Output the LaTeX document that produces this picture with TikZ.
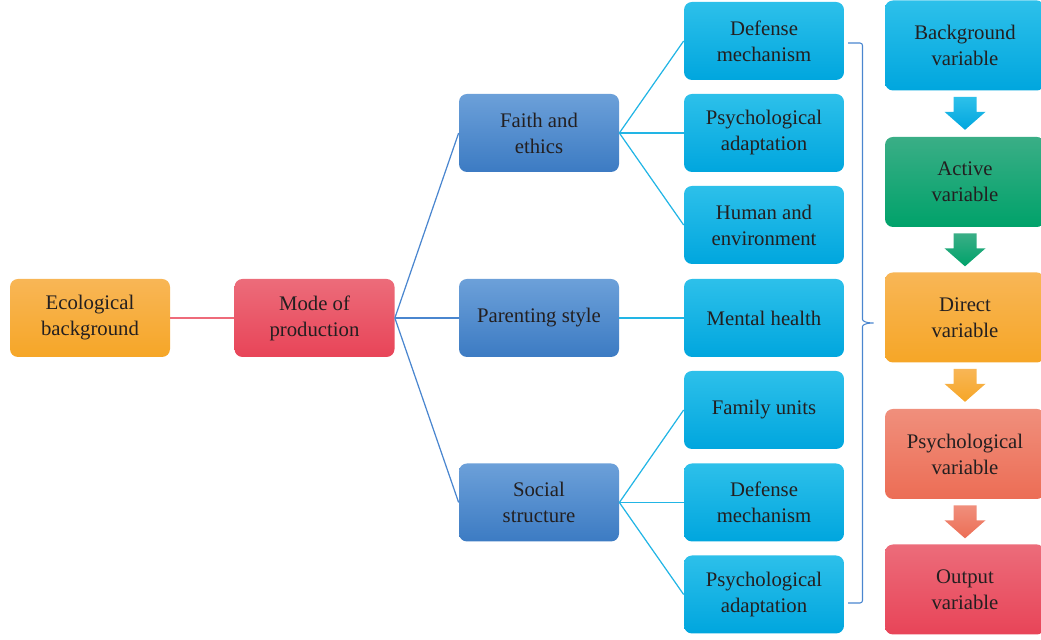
\documentclass[tikz,border=0pt]{standalone}
\usepackage{fontspec}
\setmainfont{Liberation Serif}
\usetikzlibrary{calc}

\definecolor{txt}{HTML}{231F20}
\definecolor{orTop}{HTML}{F8B656}
\definecolor{orBot}{HTML}{F6A627}
\definecolor{rdTop}{HTML}{EC6C7A}
\definecolor{rdBot}{HTML}{E84458}
\definecolor{blTop}{HTML}{6CA0D9}
\definecolor{blBot}{HTML}{3C7BC3}
\definecolor{cyTop}{HTML}{2DC0EA}
\definecolor{cyBot}{HTML}{00A6DE}
\definecolor{gnTop}{HTML}{3AAE86}
\definecolor{gnBot}{HTML}{00A26A}
\definecolor{smTop}{HTML}{F08F7C}
\definecolor{smBot}{HTML}{EC6D55}
\definecolor{redline}{HTML}{EE6B7A}
\definecolor{blueline}{HTML}{4A86CF}
\definecolor{cyanline}{HTML}{22B5E5}

\tikzset{
  box/.style={rounded corners=0.16cm, minimum width=3.2cm, minimum height=1.56cm,
    inner sep=0pt, align=center, text=txt, font=\fontsize{11.8}{14.8}\selectfont},
  varbox/.style={box, minimum height=1.8cm},
  orangebox/.style={top color=orTop, bottom color=orBot},
  redbox/.style={top color=rdTop, bottom color=rdBot},
  bluebox/.style={top color=blTop, bottom color=blBot},
  cyanbox/.style={top color=cyTop, bottom color=cyBot},
  greenbox/.style={top color=gnTop, bottom color=gnBot},
  salmonbox/.style={top color=smTop, bottom color=smBot},
}

% fat down arrow under a node
\def\fatarrow[#1](#2){\shade[#1] ($(#2.south)+(-0.23,-0.12)$) -- ++(0.46,0) -- ++(0,-0.3)
  -- ++(0.18,0) -- ++(-0.41,-0.36) -- ++(-0.41,0.36) -- ++(0.18,0) -- cycle;}

\begin{document}
\begin{tikzpicture}
	%%%%% START %%%%%
	\useasboundingbox (0,0) rectangle (20.82,12.8);
	
	\node[box, orangebox] (eco) at (1.8, 6.44) {Ecological\\background};
	\node[box, redbox] (mode) at (6.29, 6.44) {Mode of\\production};
	
	\node[box, bluebox] (faith) at (10.78, 10.14) {Faith and\\ethics};
	\node[box, bluebox] (parent) at (10.78, 6.44) {Parenting style};
	\node[box, bluebox] (social) at (10.78, 2.75) {Social\\structure};
	
	\node[box, cyanbox] (def1) at (15.28, 11.98) {Defense\\mechanism};
	\node[box, cyanbox] (adapt1) at (15.28, 10.14) {Psychological\\adaptation};
	\node[box, cyanbox] (human) at (15.28, 8.30) {Human and\\environment};
	\node[box, cyanbox] (mental) at (15.28, 6.44) {Mental health};
	\node[box, cyanbox] (family) at (15.28, 4.60) {Family units};
	\node[box, cyanbox] (def2) at (15.28, 2.75) {Defense\\mechanism};
	\node[box, cyanbox] (adapt2) at (15.28, 0.91) {Psychological\\adaptation};
	
	\draw[redline, line width=0.7pt] (eco.east) -- (mode.west);
	\foreach \n in {faith, parent, social}
		\draw[blueline, line width=0.7pt] (mode.east) -- (\n.west);
	\foreach \n in {def1, adapt1, human}
		\draw[cyanline, line width=0.7pt] (faith.east) -- (\n.west);
	\draw[cyanline, line width=0.7pt] (parent.east) -- (mental.west);
	\foreach \n in {family, def2, adapt2}
		\draw[cyanline, line width=0.7pt] (social.east) -- (\n.west);
	
	% brace that gathers the right column
	\draw[blueline, line width=0.6pt, rounded corners=0.05cm]
		(16.96, 11.94) -- (17.25, 11.94) -- (17.25, 6.46)
		.. controls (17.25, 6.38) and (17.32, 6.34) .. (17.5, 6.34)
		.. controls (17.32, 6.34) and (17.25, 6.30) .. (17.25, 6.22)
		-- (17.25, 0.74) -- (16.96, 0.74);
	
	\node[varbox, cyanbox] (bgvar) at (19.3, 11.89) {Background\\variable};
	\node[varbox, greenbox] (actvar) at (19.3, 9.16) {Active\\variable};
	\node[varbox, orangebox] (dirvar) at (19.3, 6.45) {Direct\\variable};
	\node[varbox, salmonbox] (psyvar) at (19.3, 3.72) {Psychological\\variable};
	\node[varbox, redbox] (outvar) at (19.3, 1.01) {Output\\variable};
	
	\fatarrow[top color=cyTop, bottom color=cyBot](bgvar);
	\fatarrow[top color=gnTop, bottom color=gnBot](actvar);
	\fatarrow[top color=orTop, bottom color=orBot](dirvar);
	\fatarrow[top color=smTop, bottom color=smBot](psyvar);
	%%%%% END %%%%%
\end{tikzpicture}
\end{document}
